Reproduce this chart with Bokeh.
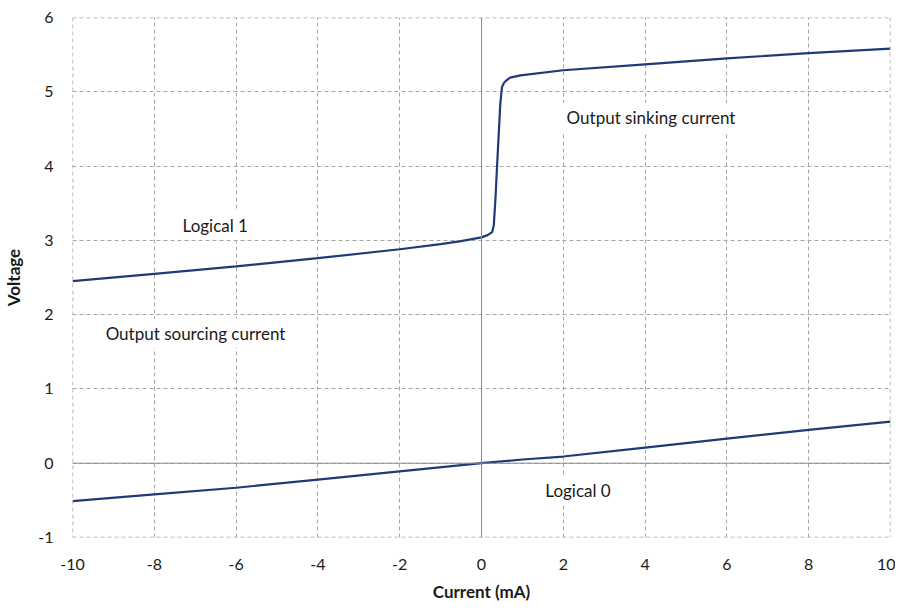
from bokeh.plotting import figure
from bokeh.models import Span, Label, FixedTicker
from bokeh.embed import file_html
from bokeh.resources import INLINE

# Data
logic1_x = [-10, -8, -6, -4, -2, -1, -0.5, 0, 0.15, 0.26, 0.3, 0.34, 0.38, 0.42, 0.46, 0.5, 0.55, 0.6, 0.7, 0.95, 2, 4, 6, 8, 10]
logic1_y = [2.45, 2.55, 2.65, 2.76, 2.88, 2.95, 2.99, 3.04, 3.07, 3.11, 3.2, 3.55, 3.99, 4.42, 4.84, 5.06, 5.12, 5.15, 5.19, 5.22, 5.29, 5.37, 5.45, 5.52, 5.58]
logic0_x = [-10, -8, -6, -4, -2, 0, 1, 2, 4, 6, 8, 10]
logic0_y = [-0.51, -0.42, -0.33, -0.22, -0.11, 0.0, 0.05, 0.09, 0.21, 0.33, 0.45, 0.56]
x_ticks = [-10, -8, -6, -4, -2, 0, 2, 4, 6, 8, 10]
y_ticks = [-1, 0, 1, 2, 3, 4, 5, 6]
annotations = [
    ("Logical 1", -7.31, 3.2),
    ("Output sourcing current", -9.19, 1.75),
    ("Output sinking current", 2.08, 4.65),
    ("Logical 0", 1.56, -0.37),
]

FONT = "Lato"
LINE_COLOR = "#1f3a78"
GRID_COLOR = "#a6a6a6"

p = figure(width=895, height=604, x_range=(-10, 10), y_range=(-1, 6),
           output_backend="svg", toolbar_location=None,
           min_border_left=72, min_border_right=5, min_border_top=17, min_border_bottom=67)
p.outline_line_color = None

for ax in (p.xaxis, p.yaxis):
    ax.axis_line_color = None
    ax.major_tick_line_color = None
    ax.minor_tick_line_color = None
    ax.major_tick_out = 0
    ax.major_tick_in = 0
    ax.minor_tick_out = 0
    ax.minor_tick_in = 0
    ax.major_label_text_font = FONT
    ax.major_label_text_font_size = "16px"
    ax.major_label_text_color = "#1a1a1a"
    ax.axis_label_text_font = FONT
    ax.axis_label_text_font_style = "bold"
    ax.axis_label_text_font_size = "17px"
    ax.axis_label_text_color = "#1a1a1a"

p.xaxis.ticker = FixedTicker(ticks=x_ticks)
p.yaxis.ticker = FixedTicker(ticks=y_ticks)
p.xaxis.major_label_overrides = {t: str(t) for t in x_ticks}
p.yaxis.major_label_overrides = {t: str(t) for t in y_ticks}
p.xaxis.major_label_standoff = 21
p.yaxis.major_label_standoff = 19
p.xaxis.axis_label = "Current (mA)"
p.yaxis.axis_label = "Voltage"
p.xaxis.axis_label_standoff = 8
p.yaxis.axis_label_standoff = 11

for g in (p.xgrid, p.ygrid):
    g.grid_line_color = GRID_COLOR
    g.grid_line_dash = "4 3"
    g.grid_line_width = 1

# dashed frame edges
for loc in (x_ticks[0], x_ticks[-1]):
    p.add_layout(Span(location=loc, dimension="height", line_color=GRID_COLOR,
                      line_dash="4 3", line_width=1.5))
for loc in (y_ticks[0], y_ticks[-1]):
    p.add_layout(Span(location=loc, dimension="width", line_color=GRID_COLOR,
                      line_dash="4 3", line_width=1.5))

p.add_layout(Span(location=0, dimension="height", line_color="#8c8c8c", line_width=1))
p.add_layout(Span(location=0, dimension="width", line_color="#8c8c8c", line_width=1))

p.line(logic1_x, logic1_y, line_color=LINE_COLOR, line_width=2.2)
p.line(logic0_x, logic0_y, line_color=LINE_COLOR, line_width=2.2)

for txt, x, y in annotations:
    p.add_layout(Label(x=x, y=y, text=txt, text_font=FONT, text_font_size="17px",
                       text_color="#1a1a1a", text_baseline="middle", text_align="left",
                       x_offset=-4,
                       background_fill_color="white", background_fill_alpha=1.0,
                       padding=4))

open("out.html", "w").write(file_html(p, INLINE))
